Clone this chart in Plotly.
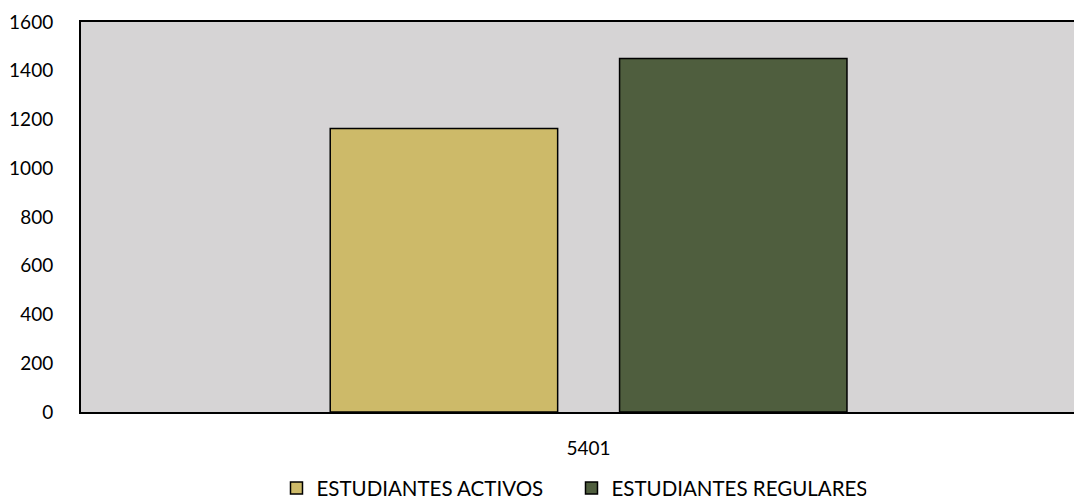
import plotly.graph_objects as go

categories = ["5401"]
activos = [1163]
regulares = [1450]
series_names = ["ESTUDIANTES ACTIVOS", "ESTUDIANTES REGULARES"]
y_ticks = [0, 200, 400, 600, 800, 1000, 1200, 1400, 1600]

font = dict(family="Lato, Open Sans, sans-serif", size=19, color="#000000")
legend_font = dict(family="Lato, Open Sans, sans-serif", size=20.5, color="#000000")

fig = go.Figure()
fig.add_trace(go.Bar(x=categories, y=activos, name=series_names[0],
                     marker=dict(color="#CDBA69", line=dict(color="#000000", width=1.5))))
fig.add_trace(go.Bar(x=categories, y=regulares, name=series_names[1],
                     marker=dict(color="#4F5E3E", line=dict(color="#000000", width=1.5))))

# page body has an 8px margin, so the figure is sized to end at the window edge
fig.update_layout(
    width=1074, height=496,
    margin=dict(l=73, r=0, t=14, b=92, autoexpand=False),
    paper_bgcolor="#FFFFFF",
    plot_bgcolor="#D6D4D5",
    barmode="group",
    bargap=0.43,
    bargroupgap=0.214,
    font=font,
    showlegend=True,
    legend=dict(orientation="h", x=0.49, xanchor="center", y=-0.195, yanchor="middle",
                font=legend_font, itemwidth=30, entrywidth=250, traceorder="normal"),
)
fig.update_xaxes(type="category", range=[-0.5, 0.486], showline=True, linecolor="#000000",
                 linewidth=2, mirror=True, ticks="", ticklabelstandoff=18, automargin=False,
                 showgrid=False, zeroline=False)
fig.update_yaxes(range=[0, 1600], tickvals=y_ticks, showline=True, linecolor="#000000",
                 linewidth=2, mirror=False, ticks="", ticklabelstandoff=22, automargin=False,
                 showgrid=False, zeroline=False)

fig.write_html("out.html")
